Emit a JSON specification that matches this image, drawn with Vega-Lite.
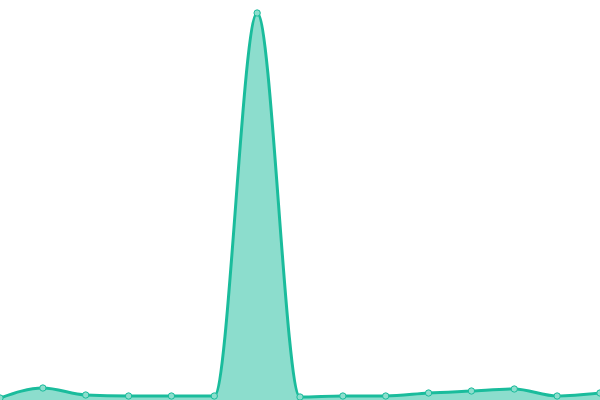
{
  "$schema": "https://vega.github.io/schema/vega-lite/v6.json",
  "autosize": {"type": "none"},
  "width": 600,
  "height": 400,
  "padding": 0,
  "config": {"view": {"stroke": null}},
  "data": {
    "values": [
      {"i": 0, "v": 2},
      {"i": 1, "v": 12},
      {"i": 2, "v": 5},
      {"i": 3, "v": 4},
      {"i": 4, "v": 4},
      {"i": 5, "v": 4},
      {"i": 6, "v": 387},
      {"i": 7, "v": 3},
      {"i": 8, "v": 4},
      {"i": 9, "v": 4},
      {"i": 10, "v": 7},
      {"i": 11, "v": 9},
      {"i": 12, "v": 11},
      {"i": 13, "v": 4},
      {"i": 14, "v": 7}
    ]
  },
  "encoding": {
    "x": {"field": "i", "type": "quantitative", "axis": null, "scale": {"domain": [0, 14], "nice": false}},
    "y": {"field": "v", "type": "quantitative", "axis": null, "scale": {"domain": [0, 400], "nice": false}}
  },
  "layer": [
    {
      "mark": {"type": "area", "interpolate": "monotone", "color": "#1abc9c", "opacity": 0.5}
    },
    {
      "mark": {"type": "line", "interpolate": "monotone", "color": "#1abc9c", "strokeWidth": 3}
    },
    {
      "mark": {"type": "point", "filled": true, "fill": "#8ddecd", "stroke": "#1abc9c", "strokeWidth": 1, "opacity": 1, "size": 40}
    }
  ]
}
